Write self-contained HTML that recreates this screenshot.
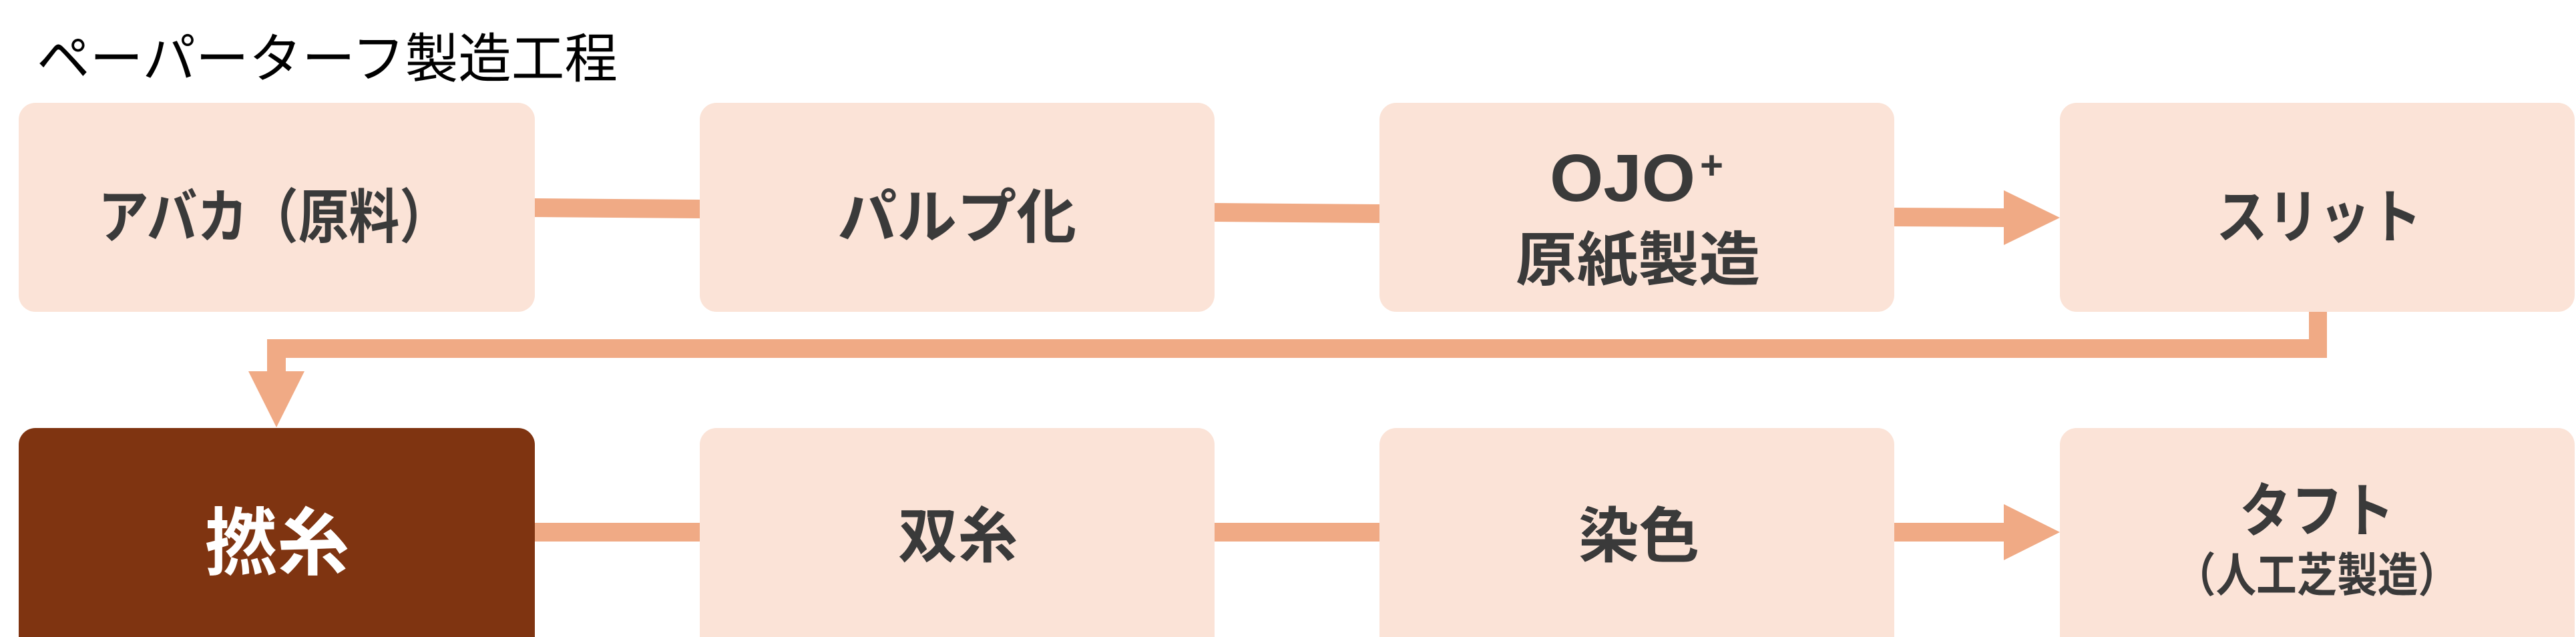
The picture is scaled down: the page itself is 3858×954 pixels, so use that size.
<!DOCTYPE html>
<html><head><meta charset="utf-8"><style>
html,body{margin:0;padding:0;background:#fff;}
svg{display:block;}
text{font-family:"Liberation Sans","Noto Sans CJK JP",sans-serif;}
.t{fill:#3a3a3a;font-weight:700;}
</style></head><body>
<svg width="3858" height="954" viewBox="0 0 3858 954" xmlns="http://www.w3.org/2000/svg">
<rect width="3858" height="954" fill="#fff"/>
<text x="55" y="116" font-size="80" fill="#000" textLength="870" lengthAdjust="spacingAndGlyphs">ペーパーターフ製造工程</text>
<g fill="#f0aa85">
<polygon points="798,297 1050,299 1050,327 798,325"/>
<polygon points="1816,304 2068,306 2068,334 1816,332"/>
<polygon points="2834,311 3001,312 3001,340 2834,339"/>
<polygon points="3001,285 3085,326 3001,367"/>
<rect x="3458" y="460" width="27" height="76"/>
<rect x="400" y="508" width="3085" height="28"/>
<rect x="400" y="508" width="28" height="50"/>
<polygon points="372,556 456,556 414,640"/>
<rect x="798" y="783" width="2210" height="28"/>
<polygon points="3001,755 3085,797 3001,839"/>
</g>
<g fill="#fbe3d7">
<rect x="28" y="154" width="773" height="313" rx="25"/>
<rect x="1048" y="154" width="771" height="313" rx="25"/>
<rect x="2066" y="154" width="771" height="313" rx="25"/>
<rect x="3085" y="154" width="771" height="313" rx="25"/>
<rect x="1048" y="641" width="771" height="340" rx="25"/>
<rect x="2066" y="641" width="771" height="340" rx="25"/>
<rect x="3085" y="641" width="771" height="340" rx="25"/>
</g>
<rect x="28" y="641" width="773" height="340" rx="25" fill="#7f3411"/>
<text class="t" x="147" y="356" font-size="88" textLength="527" lengthAdjust="spacingAndGlyphs">アバカ（原料）</text>
<text class="t" x="1254" y="356" font-size="88" textLength="358" lengthAdjust="spacingAndGlyphs">パルプ化</text>
<text class="t" x="2321" y="301" font-size="100" textLength="218" lengthAdjust="spacingAndGlyphs">OJO</text>
<text class="t" x="2546" y="268" font-size="60">+</text>
<text class="t" x="2270" y="420" font-size="88" textLength="366" lengthAdjust="spacingAndGlyphs">原紙製造</text>
<text class="t" x="3319" y="356" font-size="88" textLength="308" lengthAdjust="spacingAndGlyphs">スリット</text>
<text x="307" y="852" font-size="110" fill="#fff" font-weight="700" textLength="216" lengthAdjust="spacingAndGlyphs">撚糸</text>
<text class="t" x="1345" y="834" font-size="90" textLength="179" lengthAdjust="spacingAndGlyphs">双糸</text>
<text class="t" x="2364" y="834" font-size="90" textLength="181" lengthAdjust="spacingAndGlyphs">染色</text>
<text class="t" x="3354" y="796" font-size="88" textLength="232" lengthAdjust="spacingAndGlyphs">タフト</text>
<text class="t" x="3258" y="886" font-size="70" textLength="424" lengthAdjust="spacingAndGlyphs">（人工芝製造）</text>
</svg>
</body></html>
